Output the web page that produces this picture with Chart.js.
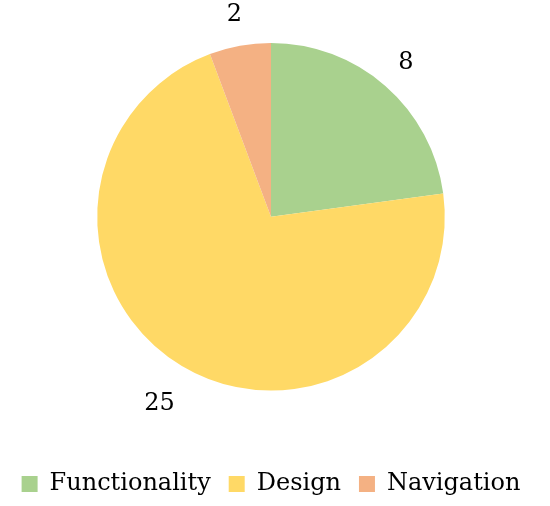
<!DOCTYPE html>
<html>
<head>
<meta charset="utf-8">
<script src="https://cdn.jsdelivr.net/npm/chart.js@4.4.1/dist/chart.umd.min.js"></script>
<style>
  html, body { margin: 0; padding: 0; background: #fff; }
  #wrap { width: 550px; height: 506px; }
</style>
</head>
<body>
<div id="wrap"><canvas id="pieChart" width="550" height="506"></canvas></div>
<script>
const categories = ['Functionality', 'Design', 'Navigation'];
const counts = [8, 25, 2];
const sliceColors = ['#a9d18e', '#ffd966', '#f4b183'];

const fontFamily = '"DejaVu Serif", "Liberation Serif", serif';

// numbers sit just outside the pie, at the middle of each slice
const outsideLabels = {
    id: 'outsideLabels',
    afterDatasetsDraw(chart) {
        const ctx = chart.ctx;
        const meta = chart.getDatasetMeta(0);
        ctx.save();
        ctx.font = '24px ' + fontFamily;
        ctx.fillStyle = '#000';
        ctx.textAlign = 'center';
        ctx.textBaseline = 'middle';
        meta.data.forEach((arc, i) => {
            const mid = (arc.startAngle + arc.endAngle) / 2;
            const w = ctx.measureText(String(counts[i])).width;
            const r = arc.outerRadius + 19 + w * 0.8;
            ctx.fillText(String(counts[i]), arc.x + Math.cos(mid) * r, arc.y + Math.sin(mid) * r);
        });
        ctx.restore();
    }
};

const ctx = document.getElementById('pieChart').getContext('2d');
const pieChart = new Chart(ctx, {
    type: 'pie',
    data: {
        labels: categories,
        datasets: [{
            data: counts,
            backgroundColor: sliceColors,
            borderWidth: 0,
        }],
    },
    options: {
        responsive: false,
        animation: false,
        layout: { padding: { top: 43, left: 0, right: 8, bottom: 0 } },
        plugins: {
            tooltip: { enabled: false },
            legend: {
                position: 'bottom',
                title: { display: true, text: '', padding: { top: 49, bottom: 0 } },
                labels: {
                    boxWidth: 16,
                    boxHeight: 16,
                    padding: 18,
                    color: '#000',
                    font: { family: fontFamily, size: 24 },
                },
            },
        },
    },
    plugins: [outsideLabels],
});
</script>
</body>
</html>
